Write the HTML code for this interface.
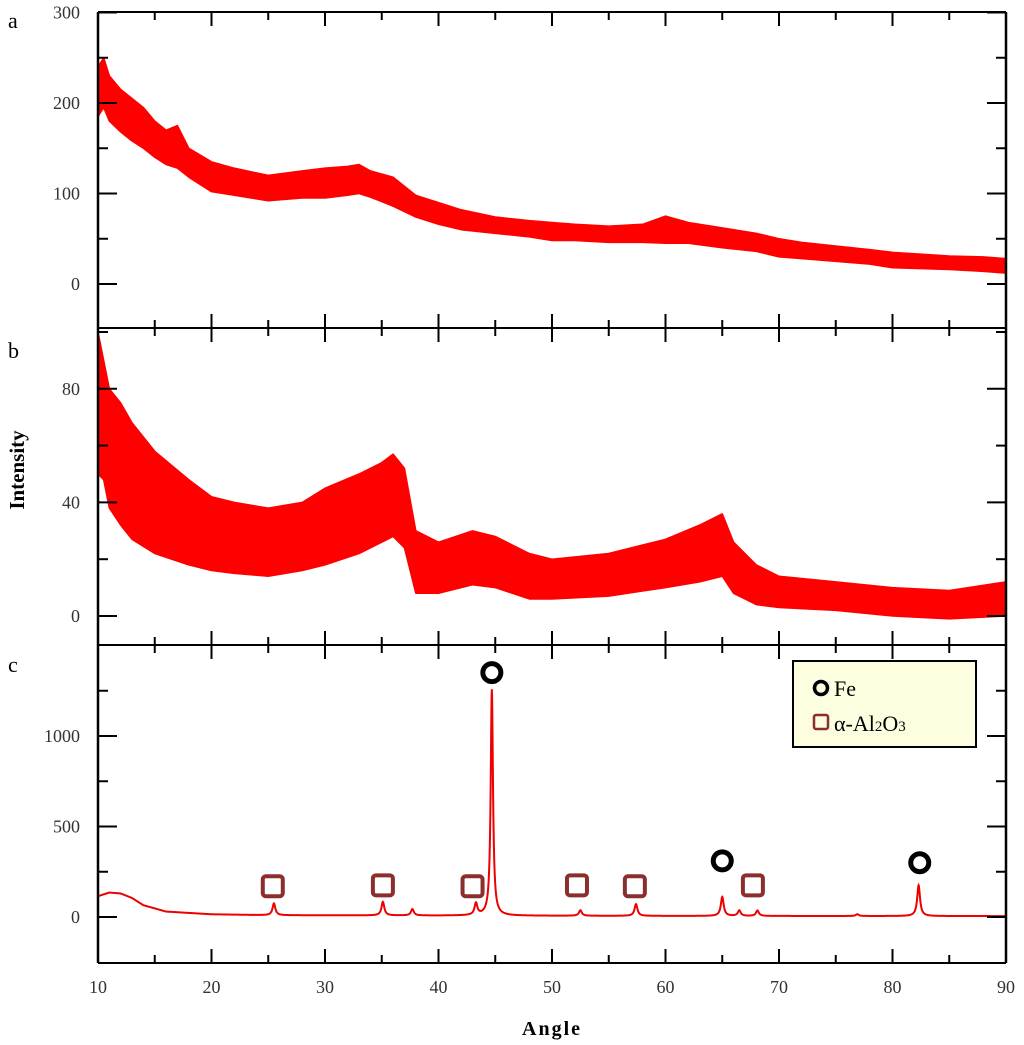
<!DOCTYPE html>
<html><head><meta charset="utf-8"><style>
html,body{margin:0;padding:0;background:#fff;}
svg{display:block;font-family:"Liberation Serif",serif;}
</style></head><body>
<svg id="chart" width="1024" height="1045" viewBox="0 0 1024 1045" xmlns="http://www.w3.org/2000/svg">
<g id="plots"></g>
<g id="axes"></g>
<text x="8" y="28" font-size="22">a</text>
<text x="8" y="358" font-size="22">b</text>
<text x="8" y="672" font-size="22">c</text>
<text x="552" y="1035" font-size="20" font-weight="bold" letter-spacing="2" text-anchor="middle">Angle</text>
<text transform="translate(24,470) rotate(-90)" font-size="21" font-weight="bold" text-anchor="middle">Intensity</text>
<g>
<rect x="793" y="661" width="183" height="86" fill="#fdfde0" stroke="#000" stroke-width="2"/>
<circle cx="821" cy="688" r="6.5" fill="none" stroke="#000" stroke-width="3.5"/>
<text x="834" y="696" font-size="22">Fe</text>
<rect x="814" y="715" width="14" height="14" rx="2" fill="none" stroke="#8b2e2e" stroke-width="2.5"/>
<text x="834" y="731" font-size="22">α-Al<tspan font-size="15">2</tspan>O<tspan font-size="15">3</tspan></text>
</g>
<g id="markers"></g>
</svg>
<script>
// Panel a envelope
const aX  = [10,10.5,11,12,13,14,15,16,17,18,20,22,25,28,30,32,33,34,36,38,40,42,45,48,50,52,55,58,60,62,65,68,70,72,75,78,80,85,88,90];
const aLo = [185,195,180,168,158,150,140,132,128,118,102,98,92,95,95,98,100,96,86,74,66,60,56,52,48,48,46,46,45,45,40,36,30,28,25,22,18,16,14,12];
const aHi = [240,250,230,215,205,195,180,170,175,150,135,128,120,125,128,130,132,125,118,98,90,82,74,70,68,66,64,66,75,68,62,56,50,46,42,38,35,31,30,28];
// Panel b envelope
const bX  = [10,10.5,11,12,13,15,18,20,22,25,28,30,33,35,36,37,38,40,43,45,48,50,55,60,63,65,66,68,70,75,80,85,90];
const bLo = [50,48,38,32,27,22,18,16,15,14,16,18,22,26,28,24,8,8,11,10,6,6,7,10,12,14,8,4,3,2,0,-1,0];
const bHi = [100,90,80,75,68,58,48,42,40,38,40,45,50,54,57,52,30,26,30,28,22,20,22,27,32,36,26,18,14,12,10,9,12];
// Panel c baseline and peaks
const cBaseX = [10,11,12,13,14,16,20,25,40,60,90];
const cBaseY = [115,135,130,105,65,30,15,10,8,6,5];
const peakPos = [25.5,35.1,37.7,43.3,44.7,52.5,57.4,65.0,66.5,68.1,76.9,82.3];
const peakHt  = [65,75,35,65,1250,30,65,105,30,30,10,170];
// Phase markers
const feMarkX = [44.7,65.0,82.4];
const feMarkY = [1350,310,300];
const alMarkX = [25.4,35.1,43.0,52.2,57.3,67.7];
const alMarkY = [170,175,170,175,170,175];

const NS="http://www.w3.org/2000/svg";
const X0=98,X1=1006;
const xs=v=>X0+(v-10)*(X1-X0)/80;
const panels=[
 {top:12,bot:328,zero:284,scale:0.905,major:[0,100,200,300],minor:[50,150,250],name:'a'},
 {top:328,bot:645,zero:616,scale:2.84,major:[0,40,80],minor:[20,60,100],name:'b'},
 {top:645,bot:963,zero:917,scale:0.181,major:[0,500,1000],minor:[-250,250,750,1250],name:'c'}];
const ys=(p,v)=>p.zero-v*p.scale;
function interp(xa,ya,x){for(let i=0;i<xa.length-1;i++){if(x<=xa[i+1]){const t=(x-xa[i])/(xa[i+1]-xa[i]);return ya[i]+t*(ya[i+1]-ya[i]);}}return ya[ya.length-1];}
const plots=document.getElementById('plots'),axes=document.getElementById('axes'),mk=document.getElementById('markers');
function band(p,xa,lo,hi,name){
 let d='M'+xs(xa[0])+','+ys(p,hi[0]);
 for(let i=1;i<xa.length;i++)d+=' L'+xs(xa[i])+','+ys(p,hi[i]);
 for(let i=xa.length-1;i>=0;i--)d+=' L'+xs(xa[i])+','+ys(p,lo[i]);
 const e=document.createElementNS(NS,'path');e.setAttribute('d',d+'Z');e.setAttribute('fill','#f00');e.setAttribute('stroke','#f00');e.setAttribute('stroke-width','1.5');e.setAttribute('stroke-linejoin','bevel');
 
 
 plots.appendChild(e);
}
band(panels[0],aX,aLo,aHi,'series-a');
band(panels[1],bX,bLo,bHi,'series-b');
(function(){const p=panels[2];let d='';
 for(let x=10;x<=90;x+=0.02){let v=interp(cBaseX,cBaseY,x);
  for(let k=0;k<peakPos.length;k++){const w=k==4?0.12:0.15;const u=(x-peakPos[k])/w;v+=peakHt[k]/(1+u*u);}
  d+=(d?' L':'M')+xs(x).toFixed(2)+','+ys(p,v).toFixed(2);}
 const e=document.createElementNS(NS,'path');e.setAttribute('d',d);e.setAttribute('fill','none');e.setAttribute('stroke','#e00');e.setAttribute('stroke-width','2');
 
 
 plots.appendChild(e);})();
function line(x1,y1,x2,y2,w){const l=document.createElementNS(NS,'line');l.setAttribute('x1',x1);l.setAttribute('y1',y1);l.setAttribute('x2',x2);l.setAttribute('y2',y2);l.setAttribute('stroke','#000');l.setAttribute('stroke-width',w||2);
 
 
 axes.appendChild(l);}
function text(x,y,s,anchor){const t=document.createElementNS(NS,'text');t.setAttribute('x',x);t.setAttribute('y',y);t.setAttribute('font-size','18');t.setAttribute('fill','#333');t.setAttribute('text-anchor',anchor);t.textContent=s;
 
 
 axes.appendChild(t);}
panels.forEach(p=>{
 line(X0,p.top,X1,p.top);line(X0,p.bot,X1,p.bot);line(X0,p.top,X0,p.bot,2.5);line(X1,p.top,X1,p.bot,2.5);
 p.major.forEach(v=>{const y=ys(p,v);line(X0,y,X0+19,y);line(X1,y,X1-19,y);text(80,y+6,String(v),'end');});
 p.minor.forEach(v=>{const y=ys(p,v);if(y>p.top+2&&y<p.bot-2){line(X0,y,X0+10,y);line(X1,y,X1-10,y);}});
 for(let x=15;x<90;x+=5){const big=x%10==0;const L=big?14:8;line(xs(x),p.bot,xs(x),p.bot-L);line(xs(x),p.top,xs(x),p.top+L);}
});
for(let x=10;x<=90;x+=10)text(xs(x),993,String(x),'middle');
feMarkX.forEach((x,i)=>{const c=document.createElementNS(NS,'circle');c.setAttribute('cx',xs(x));c.setAttribute('cy',ys(panels[2],feMarkY[i]));c.setAttribute('r','9');c.setAttribute('fill','none');c.setAttribute('stroke','#000');c.setAttribute('stroke-width','5');
 
 
 mk.appendChild(c);});
alMarkX.forEach((x,i)=>{const r=document.createElementNS(NS,'rect');r.setAttribute('x',xs(x)-10);r.setAttribute('y',ys(panels[2],alMarkY[i])-10);r.setAttribute('width','20');r.setAttribute('height','20');r.setAttribute('rx','3');r.setAttribute('fill','none');r.setAttribute('stroke','#8b2e2e');r.setAttribute('stroke-width','4');
 
 
 mk.appendChild(r);});
</script>
</body></html>
